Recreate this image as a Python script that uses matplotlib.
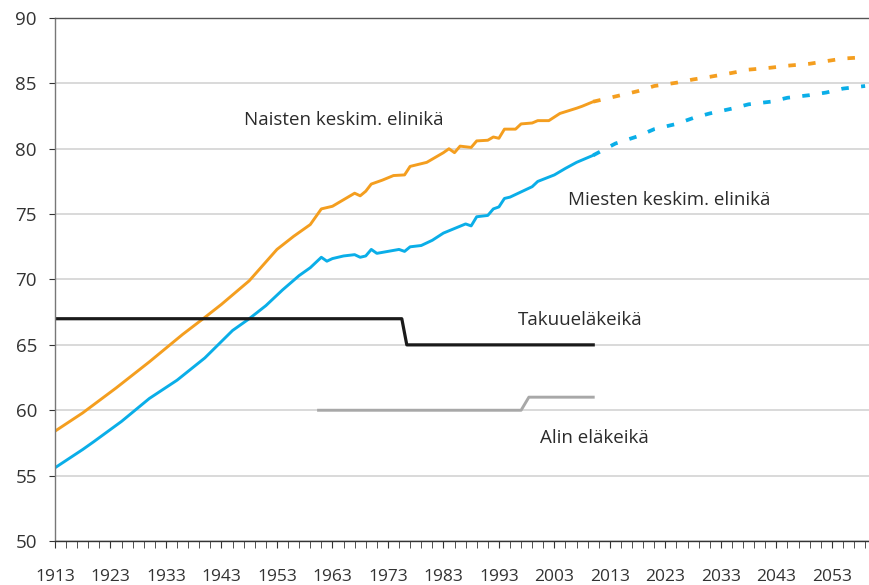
import matplotlib.pyplot as plt
import numpy as np

plt.rcParams['font.family'] = ['Open Sans', 'DejaVu Sans']

# Naisten keskim. elinikä (toteutunut)
women_years = [1913, 1918, 1924, 1930, 1936, 1940, 1943, 1948, 1953, 1956, 1959, 1961, 1963,
               1965, 1967, 1968, 1969, 1970, 1972, 1974, 1976, 1977, 1980, 1983, 1984, 1985,
               1986, 1988, 1989, 1991, 1992, 1993, 1994, 1996, 1997, 1999, 2000, 2002, 2004,
               2007, 2008, 2010]
women_vals = [58.4, 59.8, 61.7, 63.7, 65.8, 67.1, 68.1, 69.9, 72.3, 73.3, 74.2, 75.4, 75.6,
              76.1, 76.6, 76.4, 76.75, 77.3, 77.6, 77.95, 78.0, 78.65, 78.96, 79.7, 80.0, 79.7,
              80.2, 80.1, 80.6, 80.65, 80.9, 80.8, 81.5, 81.5, 81.9, 81.97, 82.15, 82.15, 82.7,
              83.1, 83.25, 83.6]
# ennuste
women_proj_years = [2010, 2014, 2018, 2021, 2025, 2028, 2031, 2035, 2038, 2042, 2045, 2049, 2052, 2055, 2059]
women_proj_vals = [83.6, 84.0, 84.4, 84.8, 85.05, 85.3, 85.5, 85.8, 86.05, 86.2, 86.35, 86.5, 86.7, 86.9, 87.0]

# Miesten keskim. elinikä
men_years = [1913, 1918, 1920, 1925, 1930, 1935, 1940, 1945, 1948, 1951, 1954, 1957, 1959,
             1961, 1962, 1963, 1965, 1967, 1968, 1969, 1970, 1971, 1973, 1975, 1976, 1977,
             1979, 1981, 1983, 1985, 1987, 1988, 1989, 1991, 1992, 1993, 1994, 1995, 1997,
             1999, 2000, 2003, 2005, 2007, 2010]
men_vals = [55.6, 57.0, 57.6, 59.15, 60.9, 62.3, 64.0, 66.1, 67.0, 68.0, 69.2, 70.3, 70.9,
            71.7, 71.4, 71.6, 71.8, 71.9, 71.7, 71.8, 72.3, 72.0, 72.15, 72.3, 72.15, 72.5,
            72.6, 73.0, 73.55, 73.9, 74.25, 74.1, 74.8, 74.9, 75.4, 75.55, 76.2, 76.3, 76.7,
            77.1, 77.5, 78.0, 78.5, 78.96, 79.5]
men_proj_years = [2010, 2014, 2018, 2021, 2025, 2028, 2031, 2035, 2038, 2042, 2045, 2049, 2052, 2055, 2059]
men_proj_vals = [79.5, 80.4, 80.95, 81.5, 81.9, 82.35, 82.7, 83.07, 83.4, 83.6, 83.9, 84.1, 84.3, 84.6, 84.8]

# Takuueläkeikä
guar_years = [1913, 1975.5, 1976.4, 2010]
guar_vals = [67, 67, 65, 65]

# Alin eläkeikä
min_years = [1960.5, 1997, 1998.4, 2010]
min_vals = [60, 60, 61, 61]

orange = '#F49E1F'
blue = '#0AAEE8'

fig = plt.figure(figsize=(8.69, 5.85), dpi=100)
ax = fig.add_axes([55 / 869, 44 / 585, 814 / 869, 523 / 585])

ax.plot(women_years, women_vals, color=orange, lw=2.1, solid_joinstyle='round')
ax.plot(men_years, men_vals, color=blue, lw=2.1, solid_joinstyle='round')
ax.plot(women_proj_years, women_proj_vals, color=orange, lw=2.7, dashes=(2.0, 3.3), dash_capstyle='butt')
ax.plot(men_proj_years, men_proj_vals, color=blue, lw=2.7, dashes=(2.0, 3.3), dash_capstyle='butt')
ax.plot(guar_years, guar_vals, color='#1a1a1a', lw=2.3)
ax.plot(min_years, min_vals, color='#a8a8a8', lw=2.1)

txt = dict(fontsize=13.5, color='#2b2b2b', va='center', ha='left')
ax.text(1947.1, 82.2, 'Naisten keskim. elinikä', **txt)
ax.text(2005.4, 76.1, 'Miesten keskim. elinikä', **txt)
ax.text(1996.4, 66.9, 'Takuueläkeikä', **txt)
ax.text(2000.4, 57.9, 'Alin eläkeikä', **txt)

ax.set_xlim(1913, 2059.7)
ax.set_ylim(50, 90)
ax.set_yticks(np.arange(50, 91, 5))
ax.set_xticks(np.arange(1913, 2060, 10))
ax.set_xticks(np.arange(1913, 2060, 2), minor=True)

ax.grid(axis='y', color='#d0d0d0', lw=1.1)
ax.set_axisbelow(True)
ax.spines['right'].set_visible(False)
ax.spines['top'].set_color('#555555')
ax.spines['left'].set_color('#777777')
ax.spines['bottom'].set_color('#333333')
for s in ['top', 'left', 'bottom']:
    ax.spines[s].set_linewidth(1.0)

ax.tick_params(axis='y', length=4, pad=9, labelsize=13.5, colors='#333333')
ax.tick_params(axis='x', which='both', length=5, colors='#333333')
ax.tick_params(axis='x', which='major', pad=15, labelsize=12.5)

fig.savefig('out.png', dpi=100)
